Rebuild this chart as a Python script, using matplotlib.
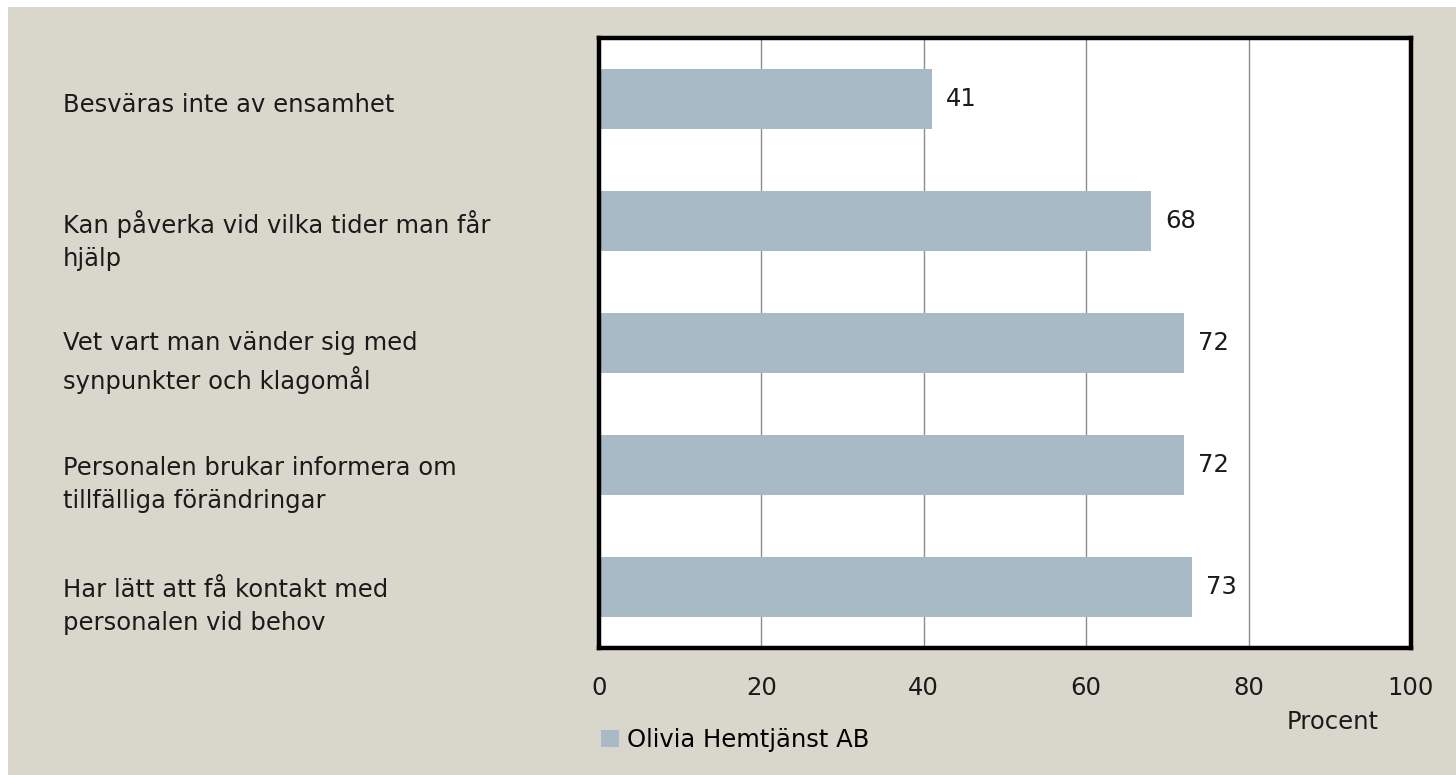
import matplotlib.pyplot as plt
import matplotlib.patches as mpatches
import matplotlib.transforms as mtransforms

categories = [
    "Besväras inte av ensamhet",
    "Kan påverka vid vilka tider man får\nhjälp",
    "Vet vart man vänder sig med\nsynpunkter och klagomål",
    "Personalen brukar informera om\ntillfälliga förändringar",
    "Har lätt att få kontakt med\npersonalen vid behov",
]
values = [41, 68, 72, 72, 73]
series_name = "Olivia Hemtjänst AB"
xticks = [0, 20, 40, 60, 80, 100]

bg = "#D9D7CB"
bar_color = "#A7BAC5"
txt = "#1a1a1a"
fs = 17.5

plt.rcParams['font.family'] = ['DejaVu Sans']

fig = plt.figure(figsize=(14.56, 7.75), dpi=100, facecolor="white")
# beige panel with thin white margin at top/left
fig.patches.append(mpatches.Rectangle((8 / 1456, 0), 1, 1 - 7 / 775,
                                      transform=fig.transFigure, facecolor=bg,
                                      edgecolor="none", zorder=-10))

ax = fig.add_axes([599 / 1456, 1 - 648 / 775, 812 / 1456, 610 / 775])
ax.set_facecolor("white")

ypos = list(range(len(categories)))
ax.barh(ypos, values, height=0.49, color=bar_color, zorder=3)
ax.set_xlim(0, 100)
ax.set_ylim(len(categories) - 0.5, -0.5)

for v, y in zip(values, ypos):
    ax.annotate(str(v), (v, y), xytext=(10, 0), textcoords="offset points",
                ha="left", va="center", fontsize=fs, color=txt)

ax.set_xticks(xticks)
ax.set_xticklabels([str(t) for t in xticks], fontsize=fs, color=txt)
ax.tick_params(axis="x", length=0, pad=20)
ax.set_yticks([])
ax.grid(axis="x", color="#8c8c8c", linewidth=1.0, zorder=0)

for s in ax.spines.values():
    s.set_linewidth(3.2)
    s.set_color("black")
    s.set_zorder(5)

# category labels, left aligned near the figure edge, sitting a bit low
trans = mtransforms.blended_transform_factory(fig.transFigure, ax.transData)
for lab, y in zip(categories, ypos):
    nlines = lab.count("\n") + 1
    off = -(4 + 10 * (nlines - 1))
    ax.annotate(lab, (63 / 1456, y), xycoords=trans, xytext=(0, off),
                textcoords="offset points", ha="left", va="center",
                fontsize=fs, color=txt, linespacing=1.45,
                annotation_clip=False)

fig.text(1333 / 1456, 1 - 722 / 775, "Procent", ha="center", va="center",
         fontsize=fs, color=txt)

handle = mpatches.Patch(facecolor=bar_color, edgecolor="none")
fig.legend([handle], [series_name], loc="center left",
           bbox_to_anchor=(601 / 1456, 1 - 740 / 775), frameon=False,
           fontsize=fs, handlelength=0.75, handleheight=0.75,
           handletextpad=0.3, borderpad=0, borderaxespad=0)

fig.savefig("out.png", dpi=100, facecolor="white")
